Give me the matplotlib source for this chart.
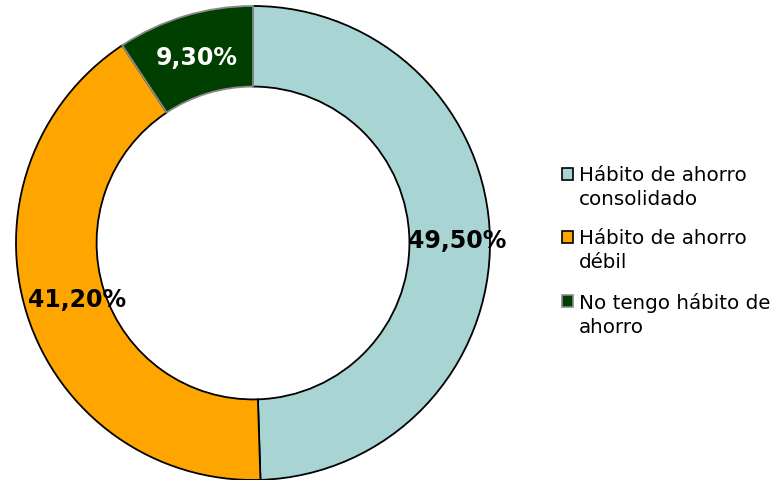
import numpy as np
import matplotlib.pyplot as plt
from matplotlib.patches import Patch, Rectangle
from matplotlib.legend_handler import HandlerPatch

categorias = ["Hábito de ahorro\nconsolidado", "Hábito de ahorro\ndébil", "No tengo hábito de\nahorro"]
valores = [49.5, 41.2, 9.3]
colores = ["#A8D4D4", "#FFA500", "#003F00"]
bordes = ["black", "black", "#8A8A8A"]
color_texto = ["black", "black", "white"]
radio_texto = [0.86, 0.78, 0.82]

fig = plt.figure(figsize=(7.82, 4.81), dpi=100)
ax = fig.add_axes([16 / 782, 0, 474 / 782, 474 / 481])

wedges, texts, autotexts = ax.pie(
    valores, colors=colores, startangle=90, counterclock=False,
    radius=1.0, pctdistance=0.82,
    autopct=lambda p: f"{p:.2f}".replace(".", ",") + "%",
    wedgeprops=dict(width=0.34, linewidth=1.3),
    textprops=dict(fontsize=17, fontweight="bold"))

for w, b in zip(wedges, bordes):
    w.set_edgecolor(b)
for w, t, c, r in zip(wedges, autotexts, color_texto, radio_texto):
    t.set_color(c)
    ang = np.deg2rad((w.theta1 + w.theta2) / 2)
    t.set_position((r * np.cos(ang), r * np.sin(ang)))

ax.set_xlim(-1, 1)
ax.set_ylim(-1, 1)
ax.set_aspect("equal")


# square marker next to the first line of each label
def cuadro(legend, orig_handle, xdescent, ydescent, width, height, fontsize):
    return Rectangle((-xdescent, -ydescent + 9.2), width, height)


handles = [Patch(facecolor=c, edgecolor=b, linewidth=1.2) for c, b in zip(colores, bordes)]
leg = fig.legend(handles, categorias, loc="upper left", bbox_to_anchor=(554 / 782, 1 - 158 / 481),
                 frameon=False, fontsize=14.3, handlelength=0.55, handleheight=0.55,
                 handletextpad=0.3, labelspacing=1.05, borderaxespad=0,
                 handler_map={Patch: HandlerPatch(patch_func=cuadro)})
for t in leg.get_texts():
    t.set_linespacing(1.31)

fig.savefig("out.png", dpi=100)
